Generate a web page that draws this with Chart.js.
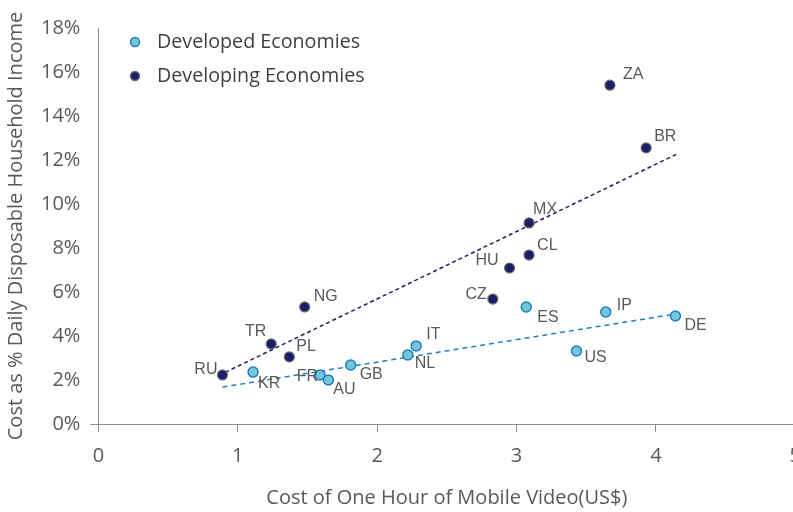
<!DOCTYPE html>
<html lang="en">
<head>
    <meta charset="UTF-8">
    <title>Mobile Video Cost vs Income</title>
    <script src="https://cdn.jsdelivr.net/npm/chart.js"></script>
    <style>
        html, body { margin: 0; padding: 0; background: #fff; overflow: hidden; }
        #wrap { width: 813px; height: 512px; }
    </style>
</head>
<body>
    <div id="wrap"><canvas id="videoChart"></canvas></div>
    <script>
        // developed economies
        const devCodes = ['KR', 'FR', 'AU', 'GB', 'NL', 'IT', 'ES', 'US', 'IP', 'DE'];
        const devCost = [1.11, 1.59, 1.65, 1.81, 2.22, 2.28, 3.07, 3.43, 3.64, 4.14];
        const devShare = [2.36, 2.23, 2.0, 2.68, 3.14, 3.55, 5.32, 3.32, 5.09, 4.91];

        // developing economies
        const emCodes = ['RU', 'TR', 'PL', 'NG', 'CZ', 'HU', 'CL', 'MX', 'ZA', 'BR'];
        const emCost = [0.89, 1.24, 1.37, 1.48, 2.83, 2.95, 3.09, 3.09, 3.67, 3.93];
        const emShare = [2.23, 3.64, 3.05, 5.32, 5.68, 7.09, 7.68, 9.14, 15.4, 12.55];

        // trend lines (start / end)
        const devTrendX = [0.89, 4.14];
        const devTrendY = [1.68, 5.0];
        const emTrendX = [0.91, 4.16];
        const emTrendY = [2.35, 12.3];

        const yTicks = [0, 2, 4, 6, 8, 10, 12, 14, 16, 18];

        // label offset from its dot: [dx, dy, align]
        const labelPlace = {
            KR: [5, 12, 'left'], FR: [-2, 2, 'right'], AU: [5, 10, 'left'], GB: [9, 10, 'left'],
            NL: [7, 9, 'left'], IT: [10, -11, 'left'], ES: [11, 11, 'left'], US: [8, 7, 'left'],
            IP: [11, -6, 'left'], DE: [9, 10, 'left'],
            RU: [-5, -5, 'right'], TR: [-5, -12, 'right'], PL: [7, -10, 'left'], NG: [9, -10, 'left'],
            CZ: [-6, -4, 'right'], HU: [-11, -7, 'right'], CL: [8, -9, 'left'], MX: [4, -13, 'left'],
            ZA: [13, -11, 'left'], BR: [8, -11, 'left']
        };

        const toPoints = (xs, ys) => xs.map((x, i) => ({ x: x, y: ys[i] }));
        const axisFont = '"Open Sans", sans-serif';

        const pointLabels = {
            id: 'pointLabels',
            afterDatasetsDraw(chart) {
                const ctx = chart.ctx;
                ctx.save();
                ctx.font = '16px "Liberation Sans", Arial, sans-serif';
                ctx.fillStyle = '#595959';
                ctx.textBaseline = 'middle';
                chart.data.datasets.forEach((ds, di) => {
                    if (!ds.codes) return;
                    chart.getDatasetMeta(di).data.forEach((pt, i) => {
                        const p = labelPlace[ds.codes[i]];
                        ctx.textAlign = p[2];
                        ctx.fillText(ds.codes[i], pt.x + p[0], pt.y + p[1]);
                    });
                });
                ctx.restore();
            }
        };

        const legendBox = {
            id: 'legendBox',
            afterDraw(chart) {
                const ctx = chart.ctx;
                ctx.save();
                ctx.font = '19.7px ' + axisFont;
                ctx.textBaseline = 'middle';
                ctx.textAlign = 'left';
                [0, 1].forEach(i => {
                    const ds = chart.data.datasets[i];
                    const y = 42 + i * 34;
                    ctx.beginPath();
                    ctx.arc(135, y, 4.5, 0, Math.PI * 2);
                    ctx.fillStyle = ds.backgroundColor;
                    ctx.fill();
                    ctx.lineWidth = 1.5;
                    ctx.strokeStyle = ds.borderColor;
                    ctx.stroke();
                    ctx.fillStyle = '#404040';
                    ctx.fillText(ds.label, 157, y);
                });
                ctx.restore();
            }
        };

        new Chart(document.getElementById('videoChart'), {
            type: 'scatter',
            data: {
                datasets: [
                    {
                        label: 'Developed Economies',
                        codes: devCodes,
                        data: toPoints(devCost, devShare),
                        backgroundColor: '#73c6d9',
                        borderColor: '#1f7fc0',
                        borderWidth: 1.5,
                        pointRadius: 5
                    },
                    {
                        label: 'Developing Economies',
                        codes: emCodes,
                        data: toPoints(emCost, emShare),
                        backgroundColor: '#1b1f6b',
                        borderColor: '#6a6a6a',
                        borderWidth: 1.2,
                        pointRadius: 5
                    },
                    {
                        label: 'Developed trend',
                        data: toPoints(devTrendX, devTrendY),
                        showLine: true,
                        borderColor: '#1f7fc0',
                        borderWidth: 1.5,
                        borderDash: [5, 4],
                        pointRadius: 0
                    },
                    {
                        label: 'Developing trend',
                        data: toPoints(emTrendX, emTrendY),
                        showLine: true,
                        borderColor: '#1b1f6b',
                        borderWidth: 1.5,
                        borderDash: [4, 3],
                        pointRadius: 0
                    }
                ]
            },
            options: {
                responsive: true,
                maintainAspectRatio: false,
                animation: false,
                layout: { padding: { top: 28, left: 1 } },
                plugins: {
                    legend: { display: false },
                    tooltip: { enabled: false }
                },
                scales: {
                    x: {
                        type: 'linear',
                        min: 0,
                        max: 5,
                        ticks: {
                            stepSize: 1,
                            color: '#595959',
                            font: { family: axisFont, size: 20 },
                            padding: 12
                        },
                        grid: { drawOnChartArea: false, tickLength: 8, color: '#8c8c8c' },
                        border: { color: '#8c8c8c' },
                        title: {
                            display: true,
                            text: 'Cost of One Hour of Mobile Video(US$)',
                            color: '#595959',
                            font: { family: axisFont, size: 20 },
                            padding: { top: 6, bottom: 2 }
                        }
                    },
                    y: {
                        min: 0,
                        max: 18,
                        afterBuildTicks: axis => { axis.ticks = yTicks.map(v => ({ value: v })); },
                        ticks: {
                            color: '#595959',
                            font: { family: axisFont, size: 20 },
                            padding: 10,
                            callback: v => v + '%'
                        },
                        grid: {
                            drawOnChartArea: false,
                            tickLength: 8,
                            color: c => c.tick && c.tick.value === 0 ? '#8c8c8c' : 'rgba(0,0,0,0)'
                        },
                        border: { color: '#8c8c8c' },
                        title: {
                            display: true,
                            text: 'Cost as % Daily Disposable Household Income',
                            color: '#595959',
                            font: { family: axisFont, size: 20 },
                            padding: { top: 3, bottom: 3 }
                        }
                    }
                }
            },
            plugins: [pointLabels, legendBox]
        });
    </script>
</body>
</html>
